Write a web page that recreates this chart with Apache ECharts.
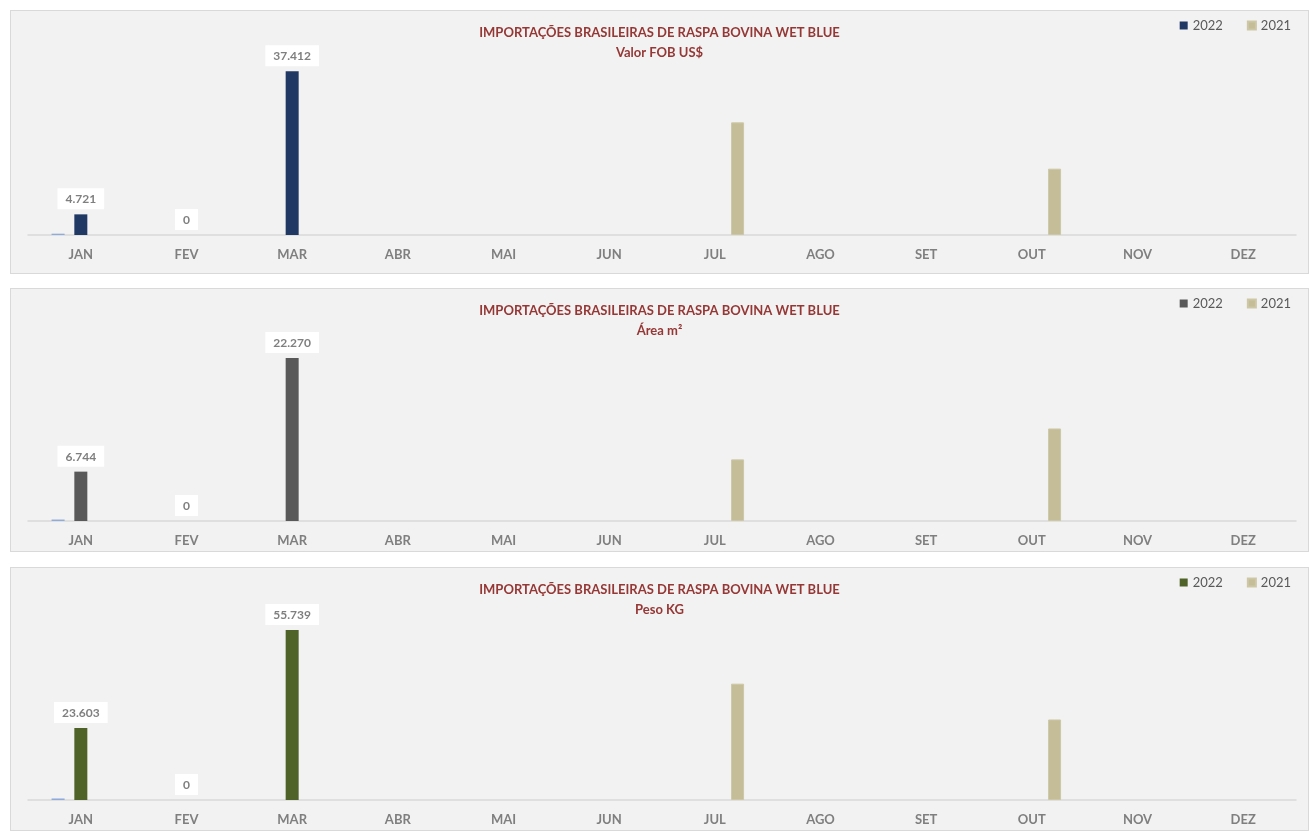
<!DOCTYPE html>
<html>
<head>
<meta charset="utf-8">
<script src="https://cdn.jsdelivr.net/npm/echarts@6/dist/echarts.min.js"></script>
<style>
  html, body { margin: 0; padding: 0; background: #ffffff; width: 1312px; height: 831px; overflow: hidden; }
  .box { position: absolute; left: 10px; width: 1297px; height: 262px; background: #f2f2f2; border: 1px solid #d9d9d9; }
  .chart { position: absolute; left: 0; top: 0; width: 1297px; height: 262px; }
</style>
</head>
<body>
<div class="box" style="top:10px"><div class="chart" id="c1"></div></div>
<div class="box" style="top:288px"><div class="chart" id="c2"></div></div>
<div class="box" style="top:567px"><div class="chart" id="c3"></div></div>
<script>
const months = ['JAN','FEV','MAR','ABR','MAI','JUN','JUL','AGO','SET','OUT','NOV','DEZ'];
const mainTitle = 'IMPORTAÇÕES BRASILEIRAS DE RASPA BOVINA WET BLUE';
const subTitles = ['Valor FOB US$', 'Área m²', 'Peso KG'];
const legendNames = ['2022', '2021'];

// Valor FOB US$
const valor2022 = [4721, 0, 37412, null, null, null, null, null, null, null, null, null];
const valor2021 = [null, null, null, null, null, null, 25750, null, null, 15160, null, null];
const valorOther = [300, null, null, null, null, null, null, null, null, null, null, null];

// Área m²
const area2022 = [6744, 0, 22270, null, null, null, null, null, null, null, null, null];
const area2021 = [null, null, null, null, null, null, 8420, null, null, 12640, null, null];
const areaOther = [200, null, null, null, null, null, null, null, null, null, null, null];

// Peso KG
const peso2022 = [23603, 0, 55739, null, null, null, null, null, null, null, null, null];
const peso2021 = [null, null, null, null, null, null, 38140, null, null, 26400, null, null];
const pesoOther = [500, null, null, null, null, null, null, null, null, null, null, null];

const fmt = v => String(v).replace(/\B(?=(\d{3})+(?!\d))/g, '.');
const FONT = 'Lato, "Open Sans", sans-serif';

function build(sub, other, s2022, s2021, color2022, yMax, gridBottom) {
  return {
    animation: false,
    textStyle: { fontFamily: FONT },
    title: {
      text: mainTitle + '\n' + sub,
      left: 'center', top: 7,
      textStyle: { fontFamily: FONT, fontSize: 13, fontWeight: 'bold', color: '#953735', lineHeight: 20 }
    },
    legend: {
      data: legendNames, right: 12, top: 3,
      itemWidth: 8, itemHeight: 8, itemGap: 24,
      icon: 'rect',
      textStyle: { fontFamily: FONT, fontSize: 13, color: '#595959', padding: [0, 0, 0, 0] }
    },
    grid: { left: 17, right: 12, top: 49, bottom: gridBottom },
    xAxis: {
      type: 'category', data: months,
      axisTick: { show: false },
      axisLine: { lineStyle: { color: '#d9d9d9', width: 1.5 } },
      axisLabel: { fontFamily: FONT, fontSize: 13, fontWeight: 'bold', color: '#7f7f7f', margin: 13 }
    },
    yAxis: { type: 'value', min: 0, max: yMax, show: false, splitLine: { show: false } },
    series: [
      { name: 'outro', type: 'bar', data: other, barWidth: 13, barGap: '75%',
        itemStyle: { color: '#8faadc' } },
      { name: '2022', type: 'bar', data: s2022, barWidth: 13, barGap: '75%',
        itemStyle: { color: color2022 },
        label: { show: true, position: 'top', distance: 5,
          formatter: p => fmt(p.value),
          backgroundColor: '#ffffff', padding: [5, 8, 4, 8],
          fontFamily: FONT, fontSize: 12, fontWeight: 'bold', color: '#7f7f7f' } },
      { name: '2021', type: 'bar', data: s2021, barWidth: 13, barGap: '75%',
        itemStyle: { color: '#c4bd97', borderColor: '#cdc7a6', borderWidth: 1 } }
    ]
  };
}

echarts.init(document.getElementById('c1')).setOption(
  build(subTitles[0], valorOther, valor2022, valor2021, '#1f3864', 40000, 38));
echarts.init(document.getElementById('c2')).setOption(
  build(subTitles[1], areaOther, area2022, area2021, '#595959', 25000, 30));
echarts.init(document.getElementById('c3')).setOption(
  build(subTitles[2], pesoOther, peso2022, peso2021, '#4f6228', 60000, 30));
</script>
</body>
</html>
